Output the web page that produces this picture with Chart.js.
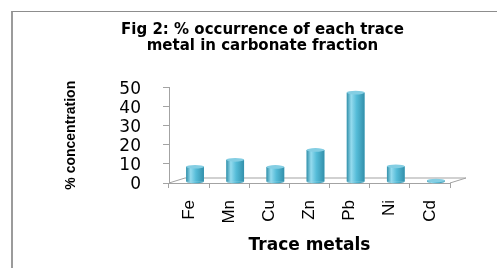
<!DOCTYPE html>
<html>
<head>
<meta charset="utf-8">
<script src="https://cdn.jsdelivr.net/npm/chart.js@4.4.1/dist/chart.umd.min.js"></script>
<style>
    html, body { margin: 0; padding: 0; background: #fff; overflow: hidden; }
    #wrap { position: relative; width: 497px; height: 268px; overflow: hidden; }
    #moldura {
        position: absolute; left: 11px; top: 11px; width: 600px; height: 400px;
        border-left: 2px solid #9b9b9b; border-top: 1px solid #8d8d8d;
    }
    #grafico { position: absolute; left: 0; top: 0; }
</style>
</head>
<body>
<div id="wrap">
    <div id="moldura"></div>
    <canvas id="grafico" width="497" height="268"></canvas>
</div>
<script>
const titulo = ['Fig 2: % occurrence of each trace', 'metal in carbonate fraction'];
const metais = ['Fe', 'Mn', 'Cu', 'Zn', 'Pb', 'Ni', 'Cd'];
const porcentagens = [8, 11.6, 7.9, 16.8, 46.8, 8.2, 0.8];
const ticksY = [0, 10, 20, 30, 40, 50];

const corEixo = '#a3a3a3';
const profX = 16, profY = 5; // deslocamento do "piso" 3D

// piso 3D e barras cilíndricas
const efeito3d = {
    id: 'efeito3d',
    beforeDatasetsDraw(chart) {
        const { ctx, chartArea: a } = chart;
        ctx.save();
        ctx.strokeStyle = corEixo;
        ctx.lineWidth = 1;
        ctx.beginPath();
        ctx.moveTo(a.left, a.bottom);
        ctx.lineTo(a.left + profX, a.bottom - profY);
        ctx.lineTo(a.right + profX, a.bottom - profY);
        ctx.lineTo(a.right, a.bottom);
        ctx.stroke();
        ctx.restore();
        ctx.save();
        ctx.translate(6, -1);
    },
    afterDatasetsDraw(chart) {
        const { ctx } = chart;
        chart.getDatasetMeta(0).data.forEach(bar => {
            const x0 = bar.x - bar.width / 2, x1 = bar.x + bar.width / 2;
            const g = ctx.createLinearGradient(x0, 0, x1, 0);
            g.addColorStop(0, '#3290aa');
            g.addColorStop(0.25, '#95dbee');
            g.addColorStop(0.55, '#55bcd8');
            g.addColorStop(1, '#3390ab');
            const ry = 1.8;
            ctx.fillStyle = g;
            ctx.fillRect(x0, bar.y, bar.width, bar.base - bar.y);
            ctx.beginPath();
            ctx.ellipse(bar.x, bar.base, bar.width / 2, ry, 0, 0, Math.PI);
            ctx.fill();
            ctx.fillStyle = '#84cee3';
            ctx.beginPath();
            ctx.ellipse(bar.x, bar.y, bar.width / 2, ry, 0, 0, Math.PI * 2);
            ctx.fill();
        });
        ctx.restore();
    }
};

new Chart(document.getElementById('grafico'), {
    type: 'bar',
    data: {
        labels: metais,
        datasets: [{
            data: porcentagens,
            backgroundColor: '#4bacc6',
            borderWidth: 0,
            categoryPercentage: 1,
            barPercentage: 0.44
        }]
    },
    options: {
        responsive: false,
        animation: false,
        devicePixelRatio: 1,
        layout: { padding: { left: 28, right: 0, top: 0, bottom: 0 } },
        plugins: {
            legend: { display: false },
            tooltip: { enabled: false },
            title: {
                display: true,
                text: titulo,
                color: '#000',
                font: { family: 'DejaVu Sans', size: 15, weight: 'bold', lineHeight: 1.05 },
                padding: { top: 22, bottom: 34 }
            }
        },
        scales: {
            x: {
                grid: { display: true, drawOnChartArea: false, drawTicks: true, tickLength: 5, color: corEixo },
                border: { display: true, color: corEixo },
                ticks: {
                    minRotation: 90, maxRotation: 90, padding: 12, autoSkip: false, color: '#000',
                    font: { family: 'Liberation Sans', size: 17 }
                },
                title: {
                    display: true, text: 'Trace metals', color: '#000',
                    font: { family: 'DejaVu Sans', size: 17, weight: 'bold', lineHeight: 1.2 },
                    padding: { top: 0, bottom: 12 }
                },
                afterFit: s => { s.height = 85; }
            },
            y: {
                min: 0, max: 50,
                afterBuildTicks: s => { s.ticks = ticksY.map(v => ({ value: v })); },
                grid: { drawOnChartArea: false, drawTicks: true, tickLength: 6, color: corEixo },
                border: { display: true, color: corEixo },
                ticks: {
                    padding: 22, labelOffset: 2, autoSkip: false, color: '#000',
                    font: { family: 'DejaVu Sans', size: 17 }
                },
                title: {
                    display: true, text: '% concentration', color: '#000',
                    font: { family: 'Liberation Sans', size: 14, weight: 'bold', lineHeight: 1.2 },
                    padding: { top: 35, bottom: 0 }
                },
                afterFit: s => { s.width = 141; }
            },
            direita: {
                position: 'right',
                display: true,
                grid: { display: false },
                border: { display: false },
                ticks: { display: false },
                afterFit: s => { s.width = 47; }
            }
        }
    },
    plugins: [efeito3d]
});
</script>
</body>
</html>
